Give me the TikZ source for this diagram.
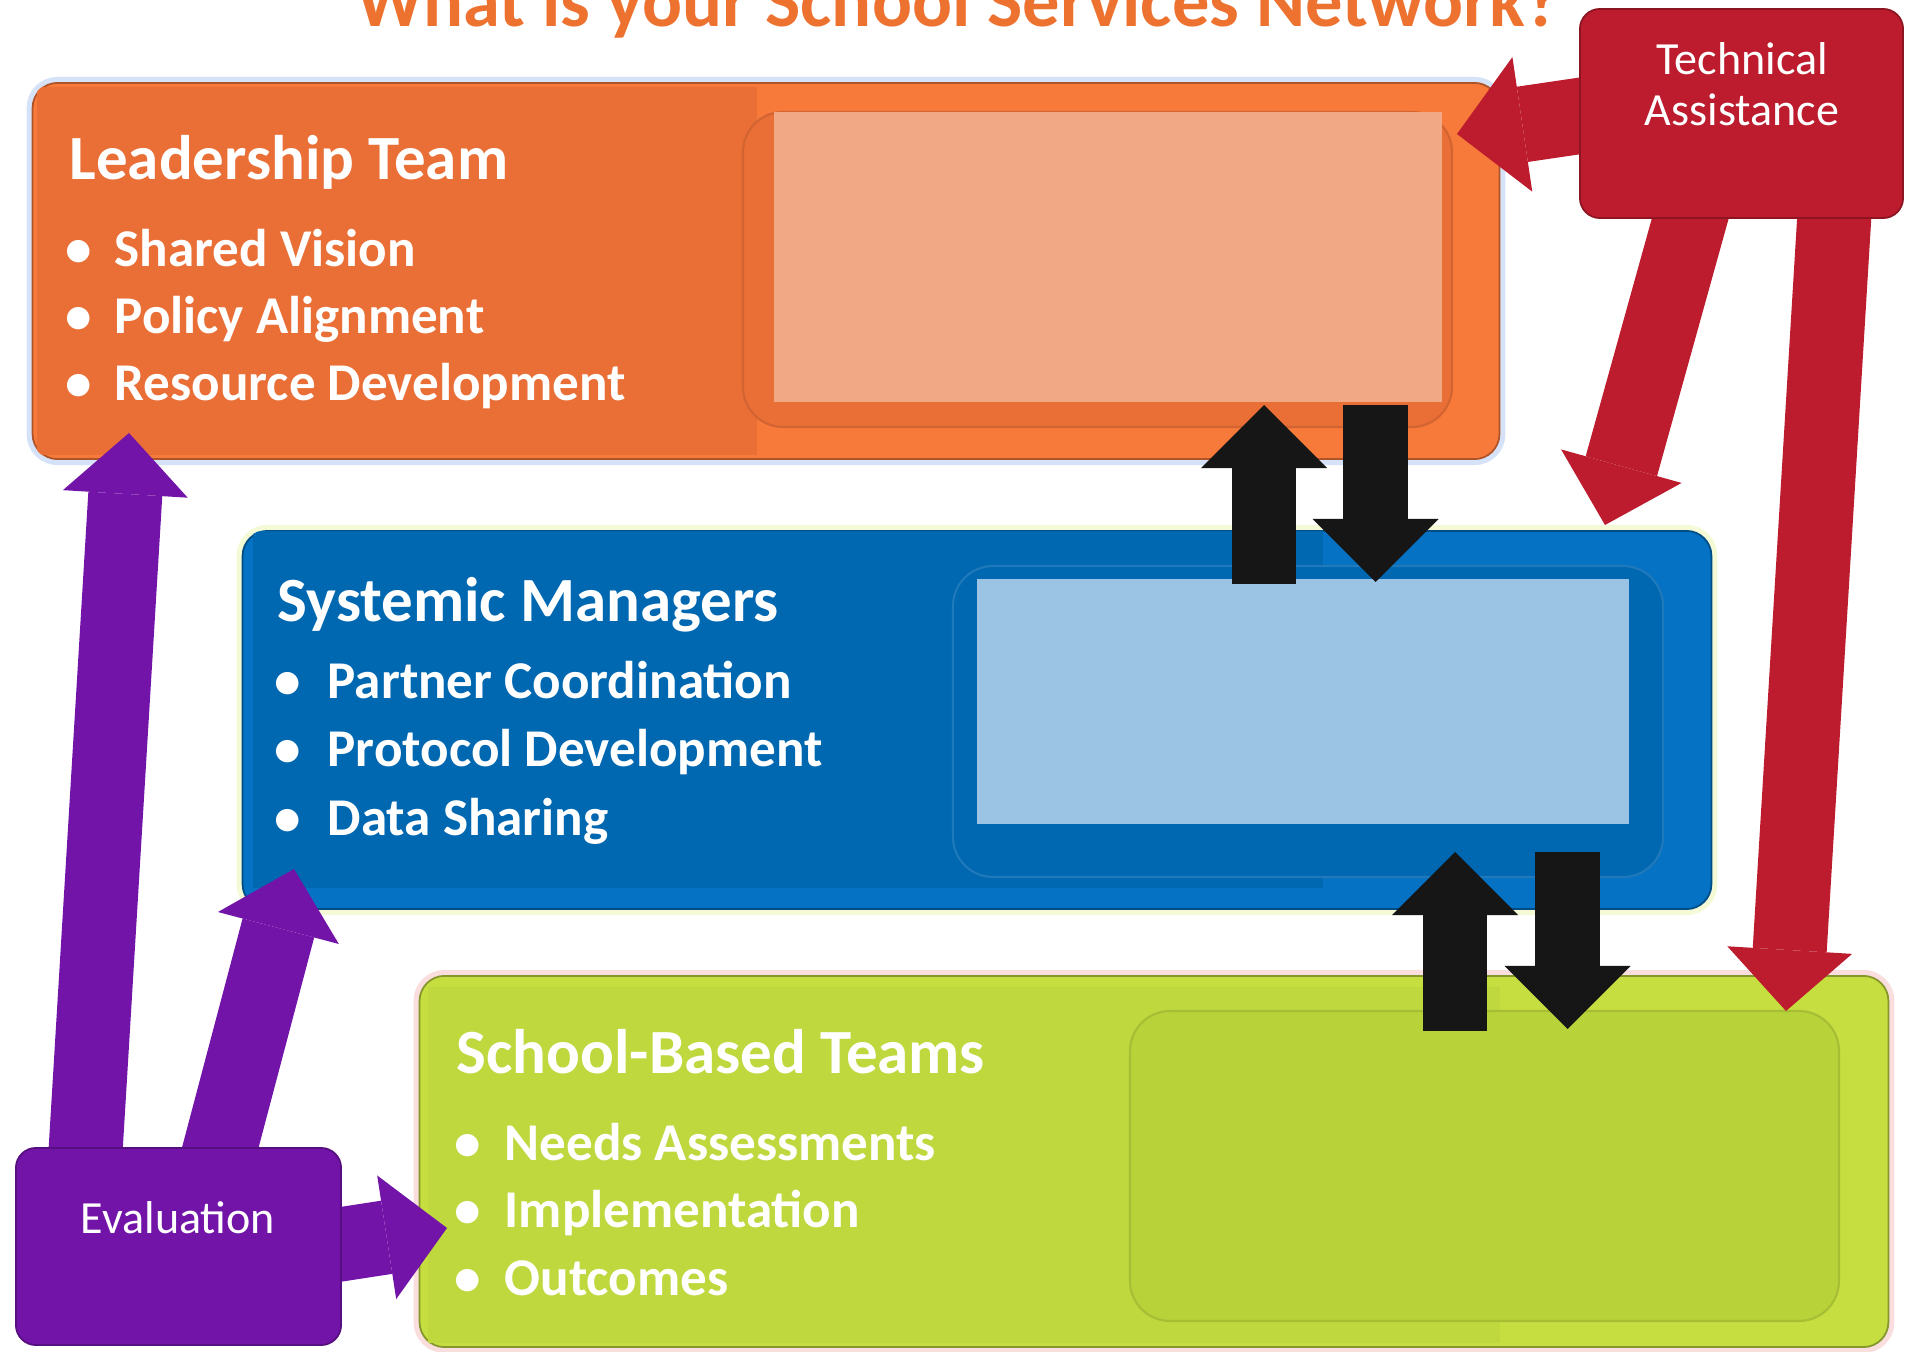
\documentclass[tikz,border=0pt]{standalone}
\usepackage{fontspec}
\setmainfont{Carlito}
\usetikzlibrary{arrows.meta,positioning}

\definecolor{titleorange}{RGB}{237,114,48}
\definecolor{netorange}{RGB}{247,122,58}
\definecolor{netorangedk}{RGB}{233,111,55}
\definecolor{netorangelt}{RGB}{241,169,133}
\definecolor{netblue}{RGB}{6,114,195}
\definecolor{netbluedk}{RGB}{0,103,177}
\definecolor{netbluelt}{RGB}{155,196,228}
\definecolor{netgreen}{RGB}{198,222,64}
\definecolor{netgreendk}{RGB}{190,216,62}
\definecolor{netgreenpn}{RGB}{184,210,58}
\definecolor{netred}{RGB}{188,28,45}
\definecolor{netpurple}{RGB}{115,20,169}
\definecolor{netblack}{RGB}{22,22,22}
\definecolor{glowblue}{RGB}{214,226,248}
\definecolor{glowyellow}{RGB}{244,249,214}
\definecolor{glowpink}{RGB}{250,222,222}

\begin{document}
\begin{tikzpicture}[x=0.01cm,y=-0.01cm]
    \tikzstyle{box}=[rounded corners=0.25cm,inner sep=0pt,line width=0.5pt]
    \tikzstyle{panel}=[rounded corners=0.4cm,line width=0.6pt]
    \tikzstyle{teamhead}=[anchor=base west,inner sep=0pt,text=white,font=\fontsize{17.9}{20}\selectfont\bfseries]
    \tikzstyle{bullettext}=[anchor=base west,inner sep=0pt,text=white,font=\fontsize{15.1}{18}\selectfont\bfseries]
    \tikzstyle{bulletdot}=[bullettext,anchor=base]
    \tikzstyle{boxtext}=[anchor=base,inner sep=0pt,text=white,font=\fontsize{13.1}{15}\selectfont]
    \tikzstyle{fatarrow}=[line width=0.74cm,-{Triangle[length=0.61cm,width=1.25cm,line width=0pt]}]
    \tikzstyle{slimarrow}=[line width=0.64cm,-{Triangle[length=0.63cm,width=1.26cm,line width=0pt]}]

    \useasboundingbox (0,0) rectangle (1905,1352);

    % title, cut by the top edge
    \node[anchor=base,inner sep=0pt,text=titleorange,font=\fontsize{21.2}{25}\selectfont\bfseries] (title) at (958,27) {What is your School Services Network?};

    % leadership team
    \node[box,fill=netorange,draw=netorangedk!75!black,minimum width=14.66cm,minimum height=3.76cm,
          preaction={draw=glowblue,line width=0.12cm}] (lead) at (766,271) {};
    \begin{scope}
      \clip[rounded corners=0.25cm] (lead.north west) rectangle (lead.south east);
      \fill[netorangedk] (37,87) rectangle (757,455);
    \end{scope}
    \draw[panel,fill=netorangedk,draw=netorangedk!90!black] (743,112) rectangle (1452,427);
    \fill[netorangelt] (774,112) rectangle (1442,402);

    % systemic managers
    \node[box,fill=netblue,draw=netbluedk!75!black,minimum width=14.68cm,minimum height=3.78cm,
          preaction={draw=glowyellow,line width=0.12cm}] (sysm) at (977,720) {};
    \begin{scope}
      \clip[rounded corners=0.25cm] (sysm.north west) rectangle (sysm.south east);
      \fill[netbluedk] (253,531) rectangle (1323,888);
    \end{scope}
    \draw[panel,fill=netbluedk,draw=netbluedk!88!white] (953,566) rectangle (1663,877);
    \fill[netbluelt] (977,579) rectangle (1629,824);

    % school-based teams
    \node[box,fill=netgreen,draw=netgreendk!70!black,minimum width=14.68cm,minimum height=3.71cm,
          preaction={draw=glowpink,line width=0.12cm}] (sbt) at (1154,1161.5) {};
    \begin{scope}
      \clip[rounded corners=0.25cm] (sbt.north west) rectangle (sbt.south east);
      \fill[netgreendk] (428,987) rectangle (1500,1343);
    \end{scope}
    \draw[panel,fill=netgreenpn,draw=netgreenpn!90!black] (1130,1011) rectangle (1839,1321);

    % texts of the three teams
    \node[teamhead] (lead-h) at (69,180) {Leadership Team};
    \foreach \txt [count=\i] in {Shared Vision,Policy Alignment,Resource Development} {
      \node[bulletdot] (lead-d\i) at (79,200+67*\i) {•};
      \node[bullettext] (lead-t\i) at (114,200+67*\i) {\txt};
    }
    \node[teamhead] (sysm-h) at (277,622) {Systemic Managers};
    \foreach \txt [count=\i] in {Partner Coordination,Protocol Development,Data Sharing} {
      \node[bulletdot] (sysm-d\i) at (288,630+68.5*\i) {•};
      \node[bullettext] (sysm-t\i) at (327,630+68.5*\i) {\txt};
    }
    \node[teamhead] (sbt-h) at (456,1073) {School-Based Teams};
    \foreach \txt [count=\i] in {Needs Assessments,Implementation,Outcomes} {
      \node[bulletdot] (sbt-d\i) at (468,1092.5+67.5*\i) {•};
      \node[bullettext] (sbt-t\i) at (504,1092.5+67.5*\i) {\txt};
    }

    % arrow ends
    \coordinate (ev-a) at (85,1160);
    \coordinate (lead-a) at (129,433);
    \coordinate (ev-b) at (217,1160);
    \coordinate (sysm-b) at (294,869);
    \coordinate (ev-c) at (330,1246);
    \coordinate (sbt-c) at (447,1228);
    \coordinate (ta-a) at (1640,107);
    \coordinate (lead-d) at (1457,134);
    \coordinate (ta-b) at (1694,205);
    \coordinate (sysm-e) at (1605,525);
    \coordinate (ta-c) at (1835,205);
    \coordinate (sbt-f) at (1786,1011);
    \coordinate (lead-up) at (1264,405);
    \coordinate (sysm-up) at (1264,584);
    \coordinate (lead-dn) at (1375.5,405);
    \coordinate (sysm-dn) at (1375.5,582);
    \coordinate (sysm-up2) at (1455,852);
    \coordinate (sbt-up) at (1455,1031);
    \coordinate (sysm-dn2) at (1567.5,852);
    \coordinate (sbt-dn) at (1567.5,1029);

    \draw[fatarrow,netpurple] (ev-a) -- (lead-a);
    \draw[fatarrow,netpurple] (ev-b) -- (sysm-b);
    \draw[fatarrow,netpurple] (ev-c) -- (sbt-c);
    \draw[fatarrow,netred,line width=0.76cm,-{Triangle[length=0.66cm,width=1.36cm,line width=0pt]}] (ta-a) -- (lead-d);
    \draw[fatarrow,netred] (ta-b) -- (sysm-e);
    \draw[fatarrow,netred] (ta-c) -- (sbt-f);

    \draw[slimarrow,netblack] (sysm-up) -- (lead-up);
    \draw[slimarrow,netblack] (lead-dn) -- (sysm-dn);
    \draw[slimarrow,netblack] (sbt-up) -- (sysm-up2);
    \draw[slimarrow,netblack] (sysm-dn2) -- (sbt-dn);

    % technical assistance and evaluation
    \node[box,rounded corners=0.2cm,fill=netred,draw=netred!75!black,minimum width=3.23cm,minimum height=2.09cm] (ta) at (1741.5,113.5) {};
    \node[boxtext] (ta-1) at (1742,75) {Technical};
    \node[boxtext] (ta-2) at (1742,126) {Assistance};

    \node[box,rounded corners=0.2cm,fill=netpurple,draw=netpurple!75!black,minimum width=3.25cm,minimum height=1.97cm] (eval) at (178.5,1246.5) {};
    \node[boxtext] (ev-1) at (178,1233) {Evaluation};
\end{tikzpicture}
\end{document}
